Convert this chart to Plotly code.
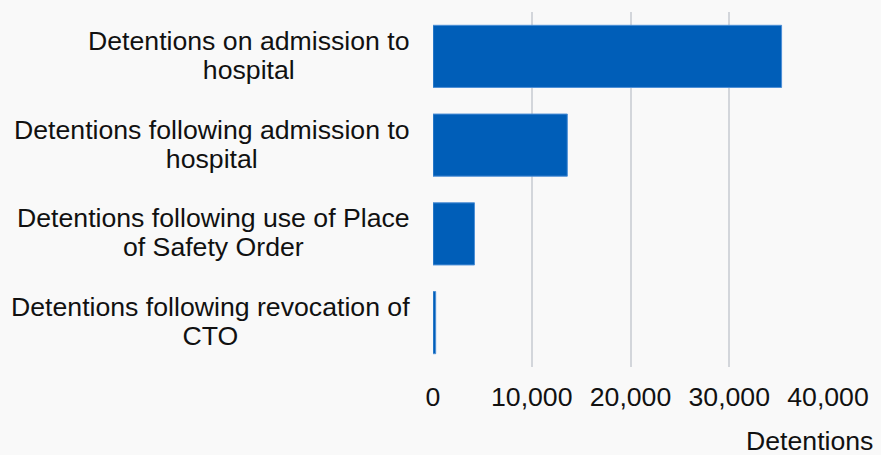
import textwrap
import plotly.graph_objects as go

# Data
categories = [
    "Detentions on admission to hospital",
    "Detentions following admission to hospital",
    "Detentions following use of Place of Safety Order",
    "Detentions following revocation of CTO",
]
detentions = [35300, 13600, 4200, 270]
x_tick_values = [0, 10000, 20000, 30000, 40000]
x_axis_title = "Detentions"

FONT = "Liberation Sans, Arial, sans-serif"
TEXT_SIZE = 26.67
TEXT_COLOR = "#111111"
BAR_COLOR = "#005EB8"
BG = "#f9f9f9"

fig = go.Figure(
    go.Bar(
        x=detentions,
        y=categories,
        orientation="h",
        marker=dict(color=BAR_COLOR, line=dict(color="#4d8fd6", width=1)),
        hoverinfo="x+y",
    )
)

annotations = []
for cat in categories:
    lines = textwrap.wrap(cat, width=34)
    text = "<br>".join(
        f'<span style="font-size:{TEXT_SIZE}px">{ln}</span>' for ln in lines
    )
    annotations.append(
        dict(
            x=0, xref="paper", xanchor="right", xshift=-21,
            y=cat, yref="y", yanchor="middle", yshift=1,
            text=text, align="center", showarrow=False,
            font=dict(family=FONT, size=22.5, color=TEXT_COLOR),
        )
    )

annotations.append(
    dict(
        x=1, xref="paper", xanchor="right", xshift=47,
        y=0, yref="paper", yanchor="middle", yshift=-74,
        text=x_axis_title, showarrow=False,
        font=dict(family=FONT, size=TEXT_SIZE, color=TEXT_COLOR),
    )
)

fig.update_layout(
    width=881,
    height=455,
    margin=dict(l=433, r=51, t=12, b=88),
    paper_bgcolor=BG,
    plot_bgcolor=BG,
    bargap=0.3,
    showlegend=False,
    font=dict(family=FONT, size=TEXT_SIZE, color=TEXT_COLOR),
    annotations=annotations,
    xaxis=dict(
        range=[0, 40000],
        tickvals=x_tick_values,
        tickformat=",",
        showgrid=True,
        gridcolor="#d3d6db",
        gridwidth=2,
        zeroline=False,
        showline=False,
        ticks="",
        ticklabelstandoff=11,
        tickfont=dict(family=FONT, size=TEXT_SIZE, color=TEXT_COLOR),
        fixedrange=True,
    ),
    yaxis=dict(
        categoryorder="array",
        categoryarray=categories,
        autorange="reversed",
        showticklabels=False,
        showgrid=False,
        zeroline=False,
        showline=False,
        ticks="",
        fixedrange=True,
    ),
)

fig.write_html(
    "out.html",
    config={"displayModeBar": False},
    post_script="document.body.style.margin='0px';document.body.style.background='%s';" % BG,
)
